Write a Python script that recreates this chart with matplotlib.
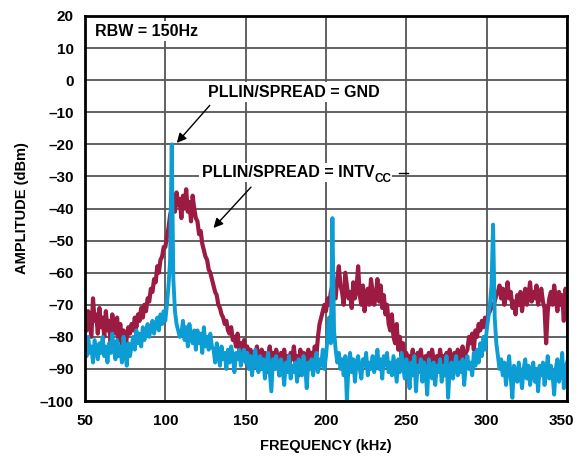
import matplotlib
matplotlib.use("Agg")
import matplotlib.pyplot as plt
from matplotlib.transforms import ScaledTranslation

plt.rcParams['font.family'] = ['Liberation Sans', 'DejaVu Sans']
plt.rcParams['font.weight'] = 'bold'

freq_khz = list(range(50, 351))

# PLLIN/SPREAD = INTVcc (spread spectrum), dBm
spread_dbm = [
    -74, -78, -72, -76, -80, -68, -75, -73, -79, -71,
    -77, -74, -80, -72, -78, -75, -82, -73, -77, -79,
    -74, -81, -76, -84, -78, -86, -80, -77, -79, -76,
    -78, -74, -77, -73, -75, -71, -74, -70, -72, -68,
    -69, -65, -66, -62, -63, -58, -60, -56, -55, -52,
    -52, -49, -46, -42, -40, -36, -41, -35, -39, -37,
    -43, -36, -40, -34, -41, -38, -44, -36, -40, -43,
    -44, -48, -47, -51, -53, -55, -56, -59, -60, -62,
    -64, -66, -67, -70, -71, -73, -74, -76, -75, -78,
    -79, -77, -81, -80, -83, -79, -84, -82, -85, -81,
    -86, -83, -88, -84, -87, -85, -89, -83, -86, -90,
    -84, -87, -85, -91, -86, -83, -88, -85, -90, -84,
    -87, -92, -85, -88, -84, -89, -86, -91, -85, -87,
    -83, -88, -86, -92, -84, -87, -85, -90, -86, -84,
    -88, -85, -87, -83, -86, -80, -76, -74, -72, -70,
    -72, -68, -70, -66, -64, -66, -68, -62, -58, -64,
    -66, -70, -60, -64, -68, -66, -71, -63, -68, -65,
    -58, -67, -70, -64, -72, -68, -65, -70, -62, -66,
    -70, -67, -62, -69, -64, -71, -67, -73, -70, -76,
    -78, -73, -80, -82, -76, -84, -80, -86, -82, -88,
    -85, -90, -86, -88, -84, -91, -87, -85, -89, -84,
    -88, -93, -86, -89, -85, -90, -84, -87, -91, -86,
    -89, -84, -88, -86, -92, -85, -88, -84, -87, -90,
    -85, -88, -84, -87, -86, -83, -88, -85, -84, -80,
    -82, -79, -84, -78, -80, -76, -78, -75, -77, -74,
    -76, -73, -72, -70, -71, -69, -67, -66, -64, -68,
    -65, -70, -67, -63, -68, -66, -71, -69, -73, -67,
    -70, -66, -72, -68, -65, -70, -67, -63, -69, -66,
    -68, -64, -70, -67, -65, -69, -71, -82, -72, -68,
    -66, -70, -64, -68, -72, -66, -70, -67, -75, -65,
    -68,
]

# PLLIN/SPREAD = GND (fixed frequency), dBm
gnd_dbm = [
    -82, -86, -80, -85, -83, -88, -81, -84, -87, -82,
    -85, -80, -86, -83, -88, -82, -85, -79, -84, -87,
    -81, -86, -83, -88, -80, -85, -89, -82, -86, -83,
    -80, -84, -78, -82, -79, -83, -77, -81, -78, -76,
    -80, -77, -75, -79, -76, -74, -78, -73, -76, -72,
    -75, -70, -64, -56, -20, -62, -72, -76, -78, -80,
    -79, -75, -81, -77, -83, -76, -80, -82, -78, -84,
    -78, -82, -79, -85, -77, -83, -80, -84, -79, -83,
    -84, -88, -82, -86, -89, -83, -87, -85, -90, -84,
    -88, -83, -86, -91, -85, -87, -84, -89, -86, -84,
    -88, -85, -90, -86, -92, -87, -84, -89, -91, -86,
    -90, -87, -93, -88, -85, -91, -97, -87, -90, -86,
    -89, -92, -87, -90, -95, -88, -91, -86, -93, -89,
    -91, -88, -94, -87, -90, -92, -86, -89, -96, -88,
    -90, -87, -92, -88, -85, -91, -87, -89, -84, -90,
    -86, -80, -74, -82, -43, -78, -84, -88, -85, -90,
    -87, -92, -86, -100, -89, -85, -91, -87, -94, -88,
    -86, -90, -93, -87, -89, -85, -92, -88, -90, -86,
    -91, -88, -84, -90, -87, -93, -86, -89, -85, -91,
    -88, -92, -86, -90, -94, -87, -91, -85, -89, -93,
    -87, -90, -96, -88, -92, -86, -97, -89, -91, -87,
    -94, -88, -91, -98, -87, -90, -93, -88, -95, -89,
    -91, -87, -94, -89, -92, -86, -99, -90, -88, -93,
    -89, -86, -92, -88, -91, -87, -95, -89, -86, -90,
    -88, -92, -85, -89, -84, -88, -82, -86, -80, -84,
    -78, -74, -70, -64, -45, -74, -82, -86, -90, -87,
    -92, -88, -95, -90, -86, -93, -99, -89, -91, -94,
    -88, -92, -96, -90, -87, -93, -89, -95, -91, -88,
    -94, -90, -97, -89, -92, -88, -95, -91, -86, -93,
    -89, -92, -98, -90, -87, -94, -91, -85, -96, -90,
    -88,
]

x_ticks = [50, 100, 150, 200, 250, 300, 350]
y_ticks = list(range(-100, 21, 10))

RED = '#9c1b43'
BLUE = '#0c9dd4'

fig = plt.figure(figsize=(5.78, 4.57), dpi=100)
ax = fig.add_axes([0.147, 0.1225, 0.834, 0.8425])

ax.plot(freq_khz, spread_dbm, color=RED, lw=3.0, zorder=3)
ax.plot(freq_khz, gnd_dbm, color=BLUE, lw=2.8, zorder=4)

ax.set_xlim(50, 350)
ax.set_ylim(-100, 20)
ax.set_xticks(x_ticks)
ax.set_yticks(y_ticks)
ax.set_yticklabels([f"{v}".replace('-', '\u2013') for v in y_ticks])
ax.grid(True, color='#555555', lw=1.3)
ax.set_axisbelow(True)
ax.tick_params(length=0, labelsize=11)
ax.tick_params(axis='y', pad=8)
ax.tick_params(axis='x', pad=9)
for s in ax.spines.values():
    s.set_linewidth(2.0)
    s.set_color('black')
    s.set_zorder(6)

# keep the last x tick label inside the figure
fig.canvas.draw()
last = ax.get_xticklabels()[-1]
last.set_transform(last.get_transform() + ScaledTranslation(-6 / 100, 0, fig.dpi_scale_trans))

ax.set_xlabel('FREQUENCY (kHz)', fontsize=10.5, fontweight='bold', labelpad=8)
ax.set_ylabel('AMPLITUDE (dBm)', fontsize=10.5, fontweight='bold', labelpad=8)

bbox = dict(boxstyle='square,pad=0.15', fc='white', ec='none')
fs = 11.5
ax.text(56, 15.3, 'RBW = 150Hz', fontsize=fs, fontweight='bold', va='center', ha='left', bbox=bbox, zorder=7)
ax.text(126.5, -3.7, 'PLLIN/SPREAD = GND', fontsize=fs, fontweight='bold', va='center', ha='left', bbox=bbox, zorder=7)
ax.annotate('', xy=(106, -20.2), xytext=(128.8, -7.2),
            arrowprops=dict(arrowstyle='-|>', color='black', lw=1.0, mutation_scale=14), zorder=7)
t = ax.text(122.6, -28.8, 'PLLIN/SPREAD = INTV', fontsize=fs, fontweight='bold',
            va='center', ha='left', bbox=bbox, zorder=7)
ax.annotate('CC', xy=(1.0, 0.08), xycoords=t, xytext=(0, 0), textcoords='offset points',
            fontsize=8.5, fontweight='bold', va='center', ha='left',
            bbox=dict(boxstyle='square,pad=0.1', fc='white', ec='none'), zorder=7)
ax.plot([245.5, 251], [-28.8, -28.8], color='black', lw=1.0, zorder=7.5)
ax.annotate('', xy=(128.8, -46.7), xytext=(154.5, -32.7),
            arrowprops=dict(arrowstyle='-|>', color='black', lw=1.0, mutation_scale=14), zorder=7)

fig.savefig('out.png', dpi=100)
